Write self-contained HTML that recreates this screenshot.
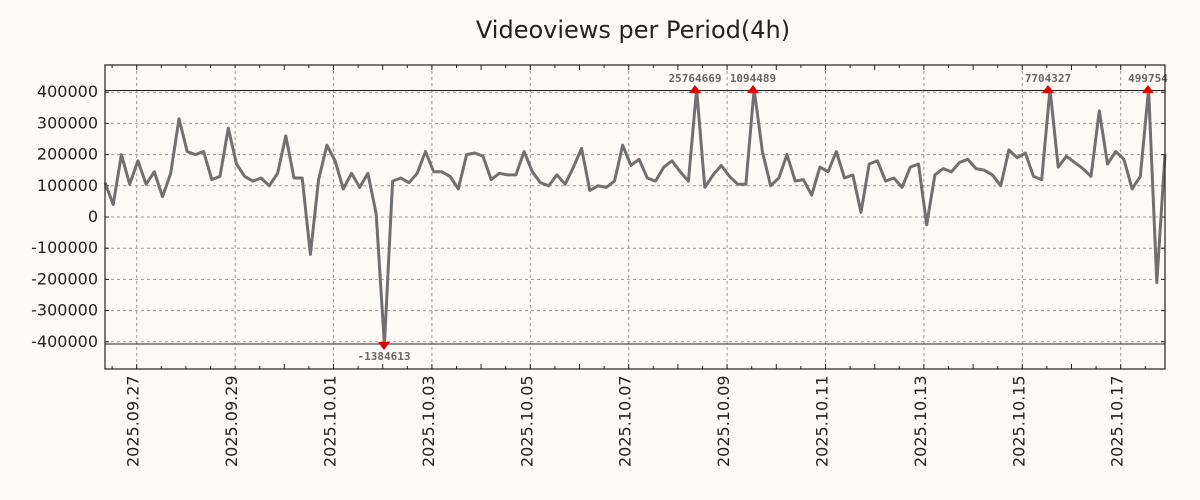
<!DOCTYPE html>
<html><head><meta charset="utf-8"><style>
body{margin:0;background:#fffaf5;}
svg{display:block;font-family:"DejaVu Sans","Liberation Sans",sans-serif;}
</style></head><body>
<svg id="s" width="1200" height="500" xmlns="http://www.w3.org/2000/svg">
<rect width="1200" height="500" fill="#fffaf5"/>
<text x="633" y="38" font-size="24" text-anchor="middle" fill="#222">Videoviews per Period(4h)</text>
<g id="grid" stroke="#999" stroke-dasharray="3,3" stroke-width="1"></g>
<g id="ticks" stroke="#222" stroke-width="1"></g>
<g id="lab" font-size="16" fill="#222"></g>
<line x1="105" y1="90.5" x2="1165" y2="90.5" stroke="#222" stroke-width="1"/>
<line x1="105" y1="344" x2="1165" y2="344" stroke="#222" stroke-width="1"/>
<polyline id="pl" fill="none" stroke="#707070" stroke-width="3" stroke-linejoin="round"/>
<g id="mk" fill="#e00000"></g>
<g font-family="'DejaVu Sans Mono','Liberation Mono',monospace" font-size="11" font-weight="bold" fill="#666" text-anchor="middle">
<text x="695" y="82">25764669</text>
<text x="753" y="82">1094489</text>
<text x="1048" y="82">7704327</text>
<text x="1148" y="82">499754</text>
<text x="384" y="360">-1384613</text>
</g>
<rect x="105" y="65" width="1060" height="304" fill="none" stroke="#222" stroke-width="1.2"/>
</svg>
<script>
var NS="http://www.w3.org/2000/svg";
function el(p,t,a,txt){var e=document.createElementNS(NS,t);for(var k in a)e.setAttribute(k,a[k]);if(txt)e.textContent=txt;document.getElementById(p).appendChild(e);return e;}
function Y(v){return 217-v*0.312;}
for(var v=-400;v<=400;v+=100){var y=Y(v);
 el("grid","line",{x1:105,x2:1165,y1:y,y2:y});
 el("ticks","line",{x1:105,x2:109,y1:y,y2:y});el("ticks","line",{x1:1161,x2:1165,y1:y,y2:y});
 el("lab","text",{x:98,y:y+5,"text-anchor":"end"},String(v*1000));}
var dates=["2025.09.27","2025.09.29","2025.10.01","2025.10.03","2025.10.05","2025.10.07","2025.10.09","2025.10.11","2025.10.13","2025.10.15","2025.10.17"];
var ppd=49.2,x0=136.7;
for(var i=0;i<dates.length;i++){var x=x0+i*2*ppd;
 el("grid","line",{x1:x,x2:x,y1:65,y2:369});
 el("lab","text",{transform:"translate("+(x+2)+",467) rotate(-90)"},dates[i]);}
for(var x=x0-ppd*0.5;x<1165;x+=ppd/2){if(x<105)continue;var big=Math.abs(((x-x0)/ppd)%1)<0.01;
 el("ticks","line",{x1:x,x2:x,y1:65,y2:big?70:68});el("ticks","line",{x1:x,x2:x,y1:369,y2:big?364:366});}
var d=[110,40,200,105,180,105,145,65,140,315,210,200,210,120,130,285,170,130,115,125,100,140,260,125,125,-120,120,230,180,90,140,95,140,10,-410,115,125,110,140,210,145,145,130,90,200,205,195,120,140,135,135,210,145,110,100,135,105,160,220,85,100,95,115,230,165,185,125,115,160,180,145,115,410,95,135,165,130,105,105,410,210,100,125,200,115,120,70,160,145,210,125,135,15,170,180,115,125,95,160,170,-25,135,155,145,175,185,155,150,135,100,215,190,205,130,120,410,160,195,175,155,130,340,170,210,185,90,130,410,-210,200];
var dx=(1165-105)/(d.length-1),pts=[];
for(var i=0;i<d.length;i++)pts.push((105+i*dx).toFixed(1)+","+Y(d[i]).toFixed(1));
document.getElementById("pl").setAttribute("points",pts.join(" "));
[695,753,1048,1148].forEach(function(x){el("mk","polygon",{points:(x-6)+",93 "+(x+6)+",93 "+x+",85"});});
el("mk","polygon",{points:"378,342 390,342 384,350"});
</script>
</body></html>
